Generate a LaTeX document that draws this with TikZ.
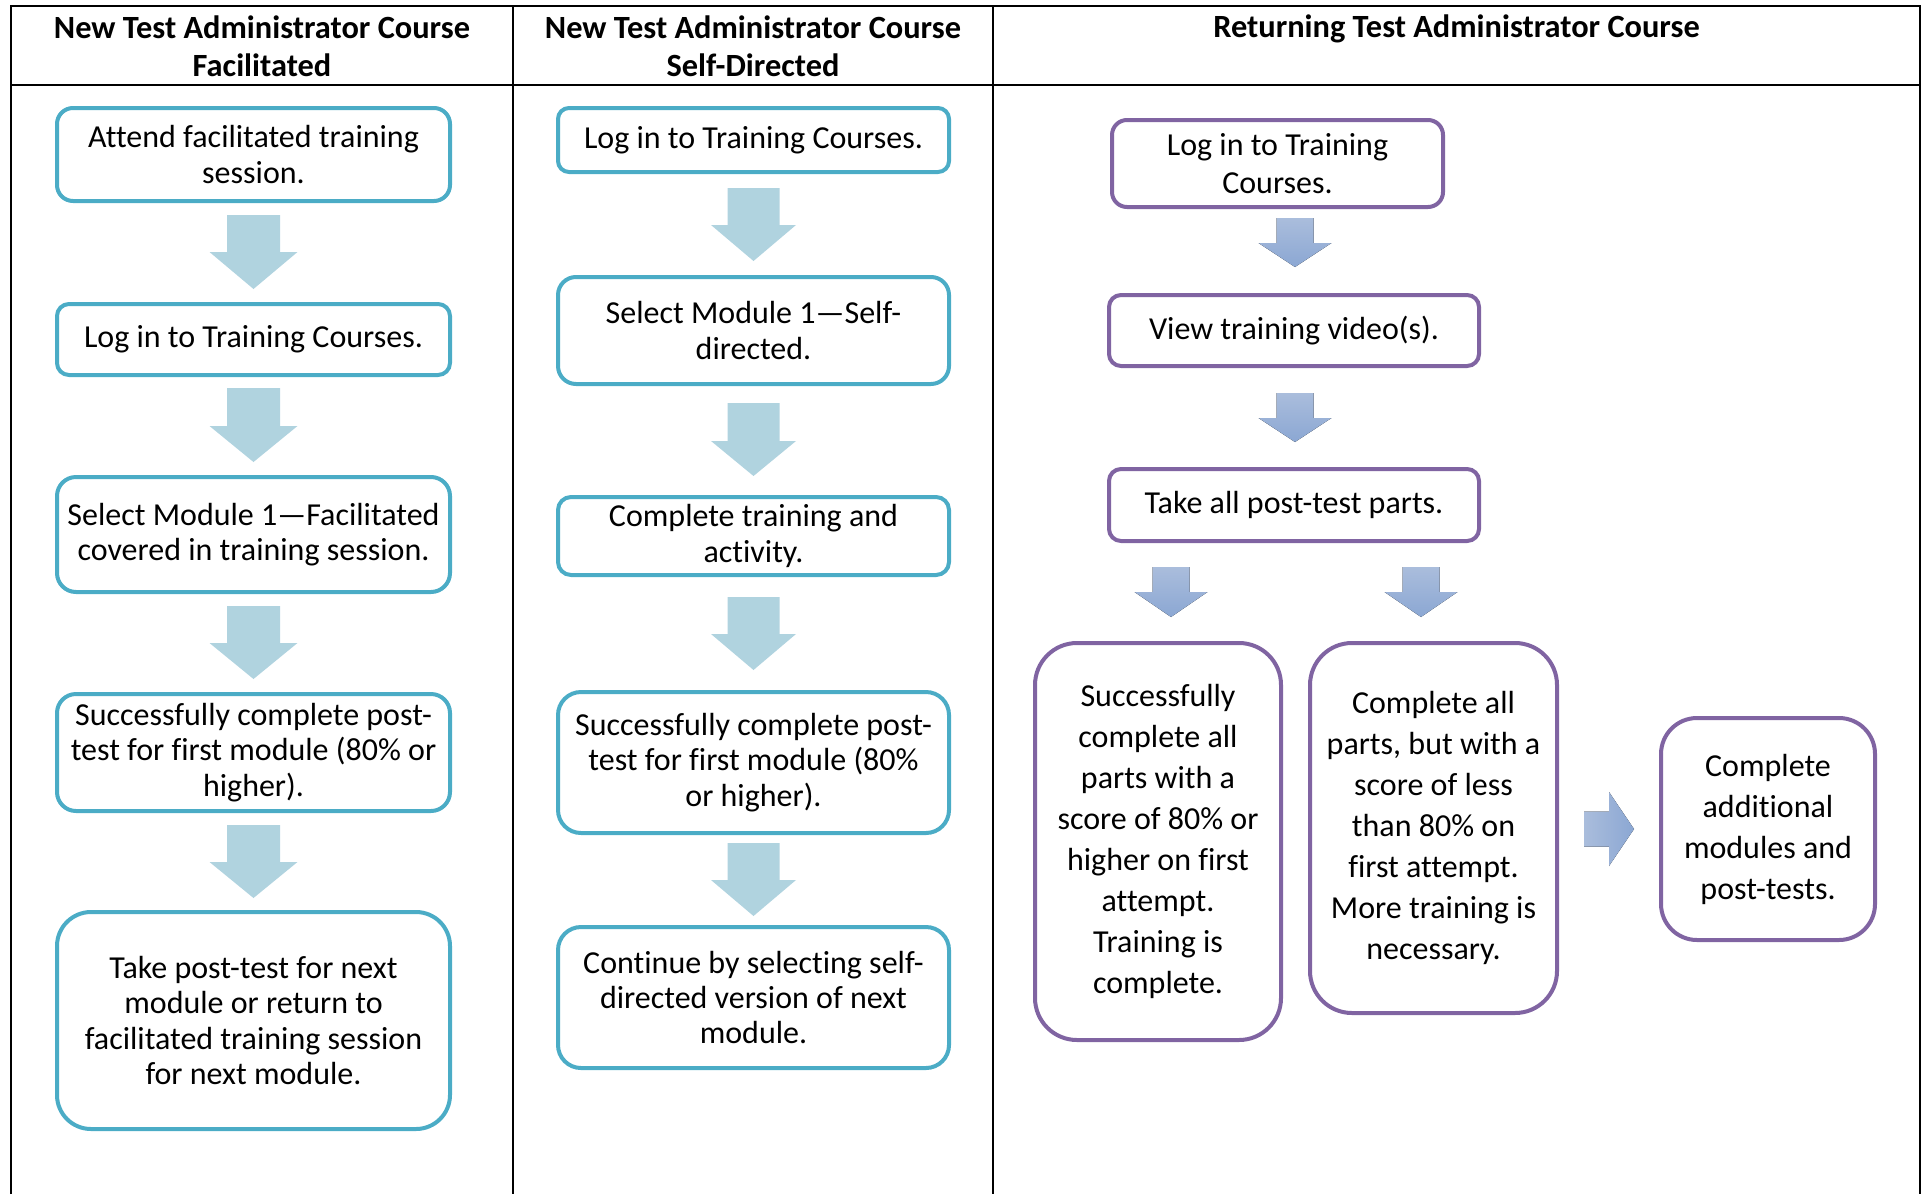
\documentclass[tikz,border=0pt]{standalone}
\usepackage{fontspec}
\setmainfont[Ligatures=NoCommon]{Carlito}
\definecolor{tealb}{HTML}{4BACC6}
\definecolor{purb}{HTML}{8064A2}
\definecolor{lblue}{HTML}{B0D3DF}
\definecolor{pa1}{HTML}{AABDDC}
\definecolor{pa2}{HTML}{8BA7D3}
\newcommand\DownArrow[7][]{\fill[#1] (#2-#6,#3) -- (#2+#6,#3) -- (#2+#6,#4) -- (#2+#7,#4) -- (#2,#5) -- (#2-#7,#4) -- (#2-#6,#4) -- cycle;}
\begin{document}
\begin{tikzpicture}[x=0.5pt,y=-0.5pt,
  mainf/.style={font=\fontsize{16}{17.7}\selectfont},
  tbox/.style={draw=tealb, line width=2pt, fill=white, align=center, inner sep=0pt, mainf},
  pbox/.style={draw=purb, line width=2pt, fill=white, align=center, inner sep=0pt, mainf},
  pbig/.style={pbox, font=\fontsize{16}{20.5}\selectfont},
  hdr/.style={align=center, inner sep=0pt, font=\bfseries\fontsize{16.2}{19}\selectfont},
  tline/.style={line width=1.1pt, black},
  tarr/.style={fill=lblue},
  parr/.style={top color=pa1, bottom color=pa2},
]
\useasboundingbox (0,0) rectangle (1925,1194);
% table
\draw[tline] (11,1194) -- (11,6) -- (1920,6) -- (1920,1194);
\draw[tline] (11,85) -- (1920,85);
\draw[tline] (513,6) -- (513,1194);
\draw[tline] (993,6) -- (993,1194);
% headers
\node[hdr] (h1) at (262,46) {New Test Administrator Course\\Facilitated};
\node[hdr] (h2) at (753,46) {New Test Administrator Course\\Self-Directed};
\node[hdr] (h3) at (1456.5,29) {Returning Test Administrator Course};
% column 1
\node[tbox, minimum width=196.5pt, minimum height=46.5pt, rounded corners=8pt] (f1) at (253.5,154.5) {Attend facilitated training\\session.};
\node[tbox, minimum width=196.5pt, minimum height=35.5pt, rounded corners=6pt] (f2) at (253.5,339.5) {Log in to Training Courses.};
\node[tbox, minimum width=196.5pt, minimum height=57.5pt, rounded corners=9.5pt] (f3) at (253.5,534.5) {Select Module 1—Facilitated\\covered in training session.};
\node[tbox, minimum width=196.5pt, minimum height=58.5pt, rounded corners=9.5pt] (f4) at (253.5,752.5) {Successfully complete post-\\test for first module (80\% or\\higher).};
\node[tbox, minimum width=196.5pt, minimum height=108.5pt, rounded corners=17pt] (f5) at (253.5,1020.5) {Take post-test for next\\module or return to\\facilitated training session\\for next module.};
\DownArrow[tarr]{253.5}{215}{252}{289}{26.5}{44}
\DownArrow[tarr]{253.5}{388}{426}{462}{26.5}{44}
\DownArrow[tarr]{253.5}{606}{643}{679}{26.5}{44}
\DownArrow[tarr]{253.5}{825}{862}{898}{26.5}{44}
% column 2
\node[tbox, minimum width=195.5pt, minimum height=32pt, rounded corners=5.5pt] (s1) at (753.5,140) {Log in to Training Courses.};
\node[tbox, minimum width=195.5pt, minimum height=53.5pt, rounded corners=9pt] (s2) at (753.5,330.5) {Select Module 1—Self-\\directed.};
\node[tbox, minimum width=195.5pt, minimum height=39pt, rounded corners=6.5pt] (s3) at (753.5,536) {Complete training and\\activity.};
\node[tbox, minimum width=195.5pt, minimum height=70.5pt, rounded corners=11.5pt] (s4) at (753.5,762.5) {Successfully complete post-\\test for first module (80\%\\or higher).};
\node[tbox, minimum width=195.5pt, minimum height=70.5pt, rounded corners=11.5pt] (s5) at (753.5,997.5) {Continue by selecting self-\\directed version of next\\module.};
\DownArrow[tarr]{753.5}{188}{225}{261}{26}{42.5}
\DownArrow[tarr]{753.5}{403}{441}{476}{26}{42.5}
\DownArrow[tarr]{753.5}{597}{634}{670}{26}{42.5}
\DownArrow[tarr]{753.5}{843}{880}{916}{26}{42.5}
% column 3
\node[pbox, minimum width=165.5pt, minimum height=43.5pt, rounded corners=7.5pt, font=\fontsize{16}{19}\selectfont] (r1) at (1277.5,163.5) {Log in to Training\\Courses.};
\node[pbox, minimum width=185pt, minimum height=35.5pt, rounded corners=6pt] (r2) at (1294,330.5) {View training video(s).};
\node[pbox, minimum width=185pt, minimum height=36pt, rounded corners=6pt] (r3) at (1294,505) {Take all post-test parts.};
\node[pbig, minimum width=123pt, minimum height=198.5pt, rounded corners=21pt] (ra) at (1158,841.5) {Successfully\\complete all\\parts with a\\score of 80\% or\\higher on first\\attempt.\\Training is\\complete.};
\node[pbig, minimum width=123.5pt, minimum height=185pt, rounded corners=21pt] (rb) at (1433.5,828) {Complete all\\parts, but with a\\score of less\\than 80\% on\\first attempt.\\More training is\\necessary.};
\node[pbig, minimum width=107pt, minimum height=111pt, rounded corners=18pt] (rc) at (1768,829) {Complete\\additional\\modules and\\post-tests.};
\DownArrow[parr]{1295}{218}{243}{267}{18.5}{36.5}
\DownArrow[parr]{1295}{393}{418}{442}{18.5}{36.5}
\DownArrow[parr]{1171}{567}{592}{617}{18.5}{36.5}
\DownArrow[parr]{1421}{567}{592}{617}{18.5}{36.5}
\fill[left color=pa1, right color=pa2] (1584,811.5) -- (1609,811.5) -- (1609,792) -- (1634,829) -- (1609,866) -- (1609,846.5) -- (1584,846.5) -- cycle;
\end{tikzpicture}
\end{document}
